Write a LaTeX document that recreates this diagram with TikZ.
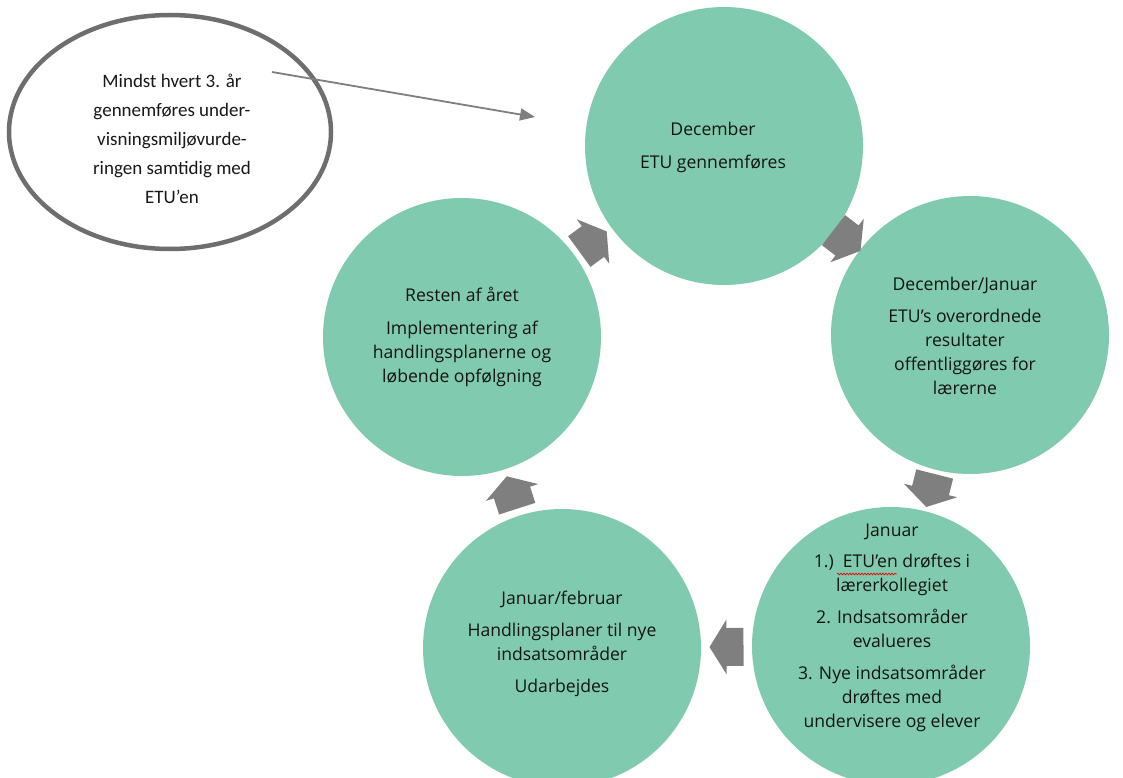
\documentclass[tikz,border=0pt]{standalone}
\usepackage{fontspec}
\setmainfont{Open Sans}
\newfontfamily\calib{Carlito}
\usetikzlibrary{arrows.meta,decorations.pathmorphing,shapes.geometric}
\definecolor{mint}{RGB}{128,203,175}
\definecolor{agray}{RGB}{127,127,127}
\definecolor{egray}{RGB}{110,110,110}
\begin{document}
\begin{tikzpicture}[x=1pt,y=-1pt,
  stage/.style={circle, fill=mint, minimum size=278pt, inner sep=0pt},
  ctext/.style={align=center, font=\fontsize{17.6}{24}\selectfont, text=black!92, inner sep=0pt},
  barrow/.style={sloped, allow upside down},
  blockarrow/.pic={\fill[agray] (17,0) -- (0,-27.5) -- (0,-19) -- (-17,-19) -- (-17,19) -- (0,19) -- (0,27.5) -- cycle;},
  notetext/.style={align=center, font=\calib\fontsize{19}{29}\selectfont, text=black!90, inner sep=0pt}]
\useasboundingbox (0,0) rectangle (1123,778);
% stage circles
\node[stage] (dec) at (724,146) {};
\node[stage] (decjan) at (970,335) {};
\node[stage] (jan) at (891,646) {};
\node[stage] (janfeb) at (562,648) {};
\node[stage] (rest) at (462,337) {};
% texts
\node[ctext] (t1) at (713,147) {December\\[9pt]ETU gennemføres};
\node[ctext] (t2) at (965,336) {December/Januar\\[8pt]ETU’s overordnede\\resultater\\offentliggøres for\\lærerne};
\node[ctext] (t3) at (892,628) {Januar\\[7pt]1.)\ \ ETU’en drøftes i\\lærerkollegiet\\[8pt]2. Indsatsområder\\evalueres\\[8pt]3. Nye indsatsområder\\drøftes med\\undervisere og elever};
\node[ctext] (t4) at (562,644) {Januar/februar\\[8pt]Handlingsplaner til nye\\indsatsområder\\[8pt]Udarbejdes};
\node[ctext] (t5) at (462,337) {Resten af året\\[9pt]Implementering af\\handlingsplanerne og\\løbende opfølgning};
% spell-check underline
\coordinate (wl) at (837,574);
\coordinate (wr) at (897,574);
\draw[red, line width=0.7pt, decorate, decoration={snake, amplitude=0.9pt, segment length=3pt}] (wl) -- (wr);
% block arrows
\path (dec) -- pic[barrow] (a1) {blockarrow} (decjan);
\path (decjan) -- pic[barrow] (a2) {blockarrow} (jan);
\path (jan) -- pic[barrow] (a3) {blockarrow} (janfeb);
\path (janfeb) -- pic[barrow] (a4) {blockarrow} (rest);
\path (rest) -- pic[barrow] (a5) {blockarrow} (dec);
% callout
\node[ellipse, draw=egray, line width=4.5pt, fill=white, minimum width=322pt, minimum height=234pt] (note) at (170,132) {};
\node[notetext] (notet) at (172,139) {Mindst hvert 3. år\\gennemføres under-\\visningsmiljøvurde-\\ringen samtidig med\\ETU’en};
\coordinate (cs) at (272,72);
\coordinate (ce) at (535,117);
\draw[line width=1.8pt, agray, -{Triangle[length=15pt,width=12pt]}] (cs) -- (ce);
\end{tikzpicture}
\end{document}
